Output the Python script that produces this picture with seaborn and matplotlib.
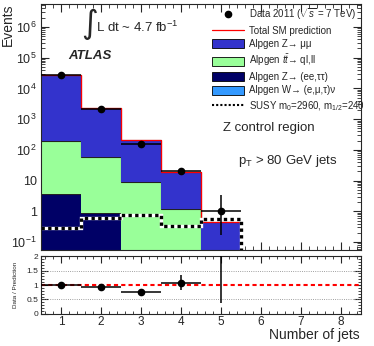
import numpy as np
import seaborn as sns
import matplotlib
matplotlib.use('Agg')
import matplotlib.pyplot as plt
from matplotlib.ticker import FixedLocator, FixedFormatter, MultipleLocator, LogLocator, NullFormatter
from matplotlib.lines import Line2D
from matplotlib.patches import Patch

# Jet multiplicity bins
n_jets = [1, 2, 3, 4, 5, 6, 7, 8]

# Stacked backgrounds, bottom to top
w_jets = [0.03, 0.01, 0.01, 0, 0, 0, 0, 0]
z_eetautau = [3.5, 0.9, 0.02, 0, 0, 0, 0, 0]
ttbar = [190, 58, 9, 1.2, 0, 0, 0, 0]
z_mumu = [27300, 2240, 196, 17.8, 0.46, 0, 0, 0]

# Signal point
susy = [0.29, 0.59, 0.76, 0.34, 0.56, 0, 0, 0]

# Data 2011
data_njets = [1, 2, 3, 4, 5]
data = [27600, 2170, 155, 20, 1]
data_err_up = [167, 47, 13.5, 5.5, 2.3]
data_err_dn = [166, 46, 12.4, 4.4, 0.83]

sns.set_style('ticks')
plt.rcParams['font.family'] = ['Liberation Sans', 'DejaVu Sans']
plt.rcParams['mathtext.fontset'] = 'custom'
plt.rcParams['mathtext.rm'] = 'Liberation Sans'
plt.rcParams['mathtext.it'] = 'Liberation Sans:italic'
plt.rcParams['mathtext.bf'] = 'Liberation Sans:bold'

edges = np.arange(0.5, len(n_jets) + 1, 1.0)
floor = 1e-4

fig = plt.figure(figsize=(3.74, 3.46), dpi=100)
ax = fig.add_axes([0.1096, 0.2775, 0.8556, 0.711])
rax = fig.add_axes([0.1096, 0.0925, 0.8556, 0.1676])

layers = [(w_jets, '#3399ff'), (z_eetautau, '#000066'), (ttbar, '#99ff99'), (z_mumu, '#3333cc')]
bottom = np.zeros(len(n_jets))
for vals, col in layers:
    top = bottom + np.array(vals, dtype=float)
    ax.stairs(np.maximum(top, floor), edges, baseline=np.maximum(bottom, floor),
              fill=True, color=col, lw=0)
    ax.stairs(np.maximum(top, floor), edges, baseline=None, color='#222222', lw=0.8)
    bottom = top
total = bottom

ax.stairs(np.maximum(total, floor), edges, baseline=None, color='red', lw=0.9)
ax.stairs(np.maximum(susy, floor), edges, baseline=None, color='white', lw=2.4)
ax.stairs(np.maximum(susy, floor), edges, baseline=None, color='black', lw=2.4, ls=(0, (1, 1)))

ax.errorbar(data_njets, data, xerr=0.5, yerr=[data_err_dn, data_err_up],
            fmt='o', color='black', ms=4.5, lw=1.1, capsize=0, zorder=5)

ax.set_yscale('log')
ax.set_xlim(0.5, 8.5)
ax.set_ylim(0.055, 5.6e6)
ax.yaxis.set_major_locator(FixedLocator([0.1, 1, 10, 1e2, 1e3, 1e4, 1e5, 1e6]))
ax.yaxis.set_major_formatter(FixedFormatter(['$10^{-1}$', '1', '10', '$10^{2}$', '$10^{3}$',
                                             '$10^{4}$', '$10^{5}$', '$10^{6}$']))
ax.yaxis.set_minor_locator(LogLocator(base=10, subs=np.arange(2, 10), numticks=20))
ax.yaxis.set_minor_formatter(NullFormatter())
ax.xaxis.set_major_locator(MultipleLocator(1))
ax.xaxis.set_minor_locator(MultipleLocator(0.2))
ax.tick_params(which='both', direction='in', top=True, right=True, labelbottom=False)
ax.tick_params(which='major', length=6, width=0.8, labelsize=9, pad=3)
ax.tick_params(which='minor', length=3, width=0.6)
ax.set_ylabel('Events', fontsize=10, loc='top')
ax.yaxis.set_label_coords(-0.083, 1.0)

ax.text(0.152, 0.915, '\u222b', transform=ax.transAxes, fontsize=23, ha='center', va='center',
        family='DejaVu Sans')
ax.text(0.172, 0.906, 'L dt ~ 4.7 fb$^{-1}$', transform=ax.transAxes, fontsize=9.5, va='center')
ax.text(0.084, 0.787, 'ATLAS', transform=ax.transAxes, fontsize=9.5, fontweight='bold',
        fontstyle='italic', va='center')
ax.text(0.569, 0.496, 'Z control region', transform=ax.transAxes, fontsize=9.5, va='center')
ax.text(0.616, 0.362, 'p$_\\mathrm{T}$ > 80 GeV jets', transform=ax.transAxes, fontsize=9.5,
        va='center')

handles = [
    Line2D([], [], marker='o', color='black', ls='none', ms=4.5),
    Line2D([], [], color='red', lw=0.9),
    Patch(facecolor='#3333cc', edgecolor='black', lw=0.6),
    Patch(facecolor='#99ff99', edgecolor='black', lw=0.6),
    Patch(facecolor='#000066', edgecolor='black', lw=0.6),
    Patch(facecolor='#3399ff', edgecolor='black', lw=0.6),
    Line2D([], [], color='black', lw=1.5, ls=(0, (1, 1))),
]
labels = [
    'Data 2011 ($\\sqrt{s}$ = 7 TeV)',
    'Total SM prediction',
    'Alpgen Z\u2192 \u03bc\u03bc',
    'Alpgen $t\\bar{t}$\u2192 ql,ll',
    'Alpgen Z\u2192 (ee,\u03c4\u03c4)',
    'Alpgen W\u2192 (e,\u03bc,\u03c4)\u03bd',
    'SUSY m$_0$=2960, m$_{1/2}$=240',
]
ax.legend(handles, labels, loc='upper left', bbox_to_anchor=(0.534, 0.99), frameon=False,
          fontsize=7, borderpad=0, borderaxespad=0, labelspacing=0.36,
          handlelength=3.3, handleheight=1.0, handletextpad=0.5)

# Ratio panel
ratio = np.array(data) / total[:len(data)]
ratio_dn = np.array(data_err_dn) / total[:len(data)]
ratio_up = np.array(data_err_up) / total[:len(data)]
for y in [0.5, 1.5]:
    rax.axhline(y, color='gray', lw=0.6, ls=':')
rax.axhline(1, color='red', lw=1.5, ls=(0, (2, 1.5)))
rax.errorbar(data_njets, ratio, xerr=0.5, yerr=[ratio_dn, ratio_up],
             fmt='o', color='black', ms=4.5, lw=1.1, capsize=0, zorder=5)
rax.set_xlim(0.5, 8.5)
rax.set_ylim(0, 2)
rax.xaxis.set_major_locator(MultipleLocator(1))
rax.xaxis.set_minor_locator(MultipleLocator(0.2))
rax.yaxis.set_major_locator(FixedLocator([0, 0.5, 1, 1.5, 2]))
rax.yaxis.set_major_formatter(FixedFormatter(['0', '0.5', '1', '1.5', '2']))
rax.yaxis.set_minor_locator(MultipleLocator(0.1))
rax.tick_params(which='both', direction='in', top=True, right=True)
rax.tick_params(axis='x', which='major', length=5, width=0.8, labelsize=8.5, pad=1.5)
rax.tick_params(axis='y', which='major', length=5, width=0.8, labelsize=6, pad=2)
rax.tick_params(which='minor', length=2.5, width=0.6)
rax.set_ylabel('Data / Prediction', fontsize=4.5)
rax.yaxis.set_label_coords(-0.072, 0.5)

fig.text(360 / 374, 1 - 335 / 346, 'Number of jets', fontsize=10, ha='right', va='center')

fig.savefig('out.png', dpi=100)
